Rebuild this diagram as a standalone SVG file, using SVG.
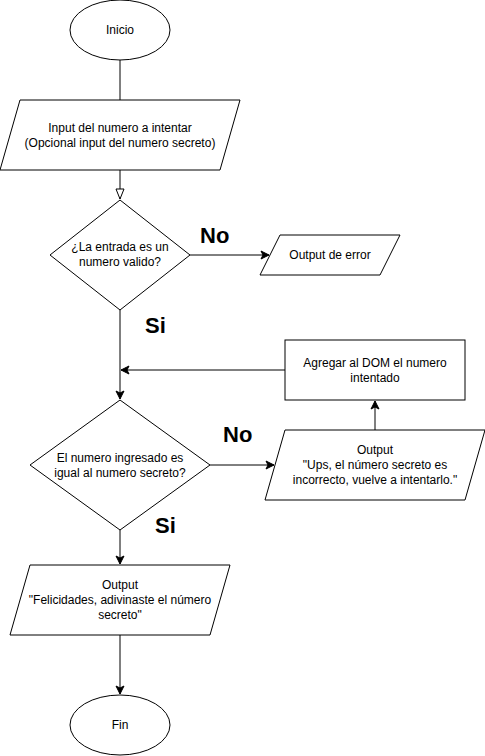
<svg xmlns="http://www.w3.org/2000/svg" width="485" height="756" viewBox="0 0 485 756">
<style>
.s{fill:#fff;stroke:#000;stroke-width:1}
.t{font-family:"Liberation Sans",Arial,sans-serif;font-size:12px;fill:#000;text-anchor:middle}
.b{font-family:"Liberation Sans",Arial,sans-serif;font-size:22px;font-weight:bold;fill:#000}
.e{fill:none;stroke:#000;stroke-width:1}
</style>
<defs>
<marker id="a" markerUnits="userSpaceOnUse" markerWidth="10" markerHeight="10" refX="8" refY="4" orient="auto" overflow="visible">
<path d="M0,0 L8,4 L0,8 L2,4 z" fill="#000" stroke="#000" stroke-width="1"/>
</marker>
<marker id="o" markerUnits="userSpaceOnUse" markerWidth="12" markerHeight="12" refX="10" refY="4" orient="auto" overflow="visible">
<path d="M0,0 L10,4 L0,8 z" fill="#fff" stroke="#000" stroke-width="1"/>
</marker>
</defs>
<g id="edges">
<path class="e" d="M120,60 L120,100"/>
<path class="e" d="M120,170 L120,199" marker-end="url(#o)"/>
<path class="e" d="M190,255 L269,255" marker-end="url(#a)"/>
<path class="e" d="M120,310 L120,399" marker-end="url(#a)"/>
<path class="e" d="M285,370 L121,370" marker-end="url(#a)"/>
<path class="e" d="M210,465 L274,465" marker-end="url(#a)"/>
<path class="e" d="M375,430 L375,401" marker-end="url(#a)"/>
<path class="e" d="M120,530 L120,564" marker-end="url(#a)"/>
<path class="e" d="M120,635 L120,694" marker-end="url(#a)"/>
</g>
<g id="labels">
<text class="b" x="200" y="243">No</text>
<text class="b" x="145" y="333">Si</text>
<text class="b" x="223" y="442">No</text>
<text class="b" x="155" y="533">Si</text>
</g>
<g id="inicio">
<ellipse class="s" cx="120" cy="30" rx="50" ry="30"/>
<text class="t" x="120" y="34">Inicio</text>
</g>
<g id="input">
<polygon class="s" points="20,100 240,100 220,170 0,170"/>
<text class="t" x="120" y="132">Input del numero a intentar</text>
<text class="t" x="120" y="147">(Opcional input del numero secreto)</text>
</g>
<g id="valido">
<polygon class="s" points="120,200 190,255 120,310 50,255"/>
<text class="t" x="120" y="251">¿La entrada es un</text>
<text class="t" x="120" y="266">numero valido?</text>
</g>
<g id="error">
<polygon class="s" points="280,235 400,235 380,275 260,275"/>
<text class="t" x="330" y="259">Output de error</text>
</g>
<g id="agregar">
<rect class="s" x="285" y="340" width="180" height="60"/>
<text class="t" x="375" y="367">Agregar al DOM el numero</text>
<text class="t" x="375" y="382">intentado</text>
</g>
<g id="igual">
<polygon class="s" points="120,400 210,465 120,530 30,465"/>
<text class="t" x="120" y="462">El numero ingresado es</text>
<text class="t" x="120" y="477">igual al numero secreto?</text>
</g>
<g id="ups">
<polygon class="s" points="285,430 485,430 465,500 265,500"/>
<text class="t" x="375" y="454">Output</text>
<text class="t" x="375" y="469">"Ups, el número secreto es</text>
<text class="t" x="375" y="484">incorrecto, vuelve a intentarlo."</text>
</g>
<g id="felicidades">
<polygon class="s" points="30,565 230,565 210,635 10,635"/>
<text class="t" x="120" y="589">Output</text>
<text class="t" x="120" y="604">"Felicidades, adivinaste el número</text>
<text class="t" x="120" y="619">secreto"</text>
</g>
<g id="fin">
<ellipse class="s" cx="120" cy="725" rx="50" ry="30"/>
<text class="t" x="120" y="729">Fin</text>
</g>
</svg>
